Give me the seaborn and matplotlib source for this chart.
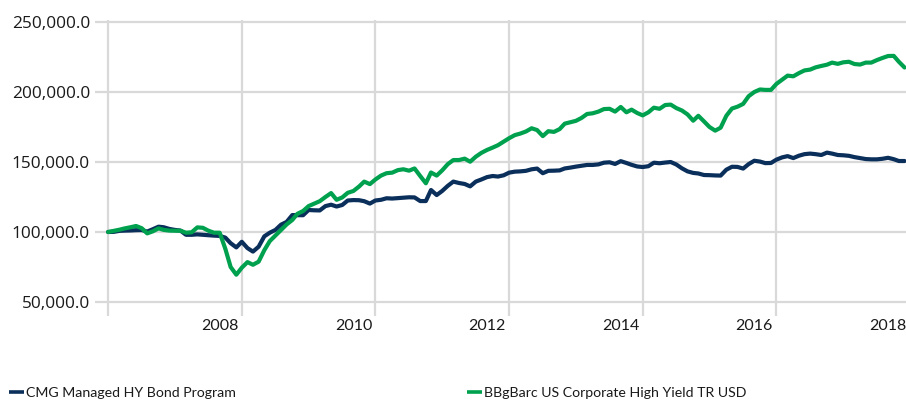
import pandas as pd
import matplotlib
matplotlib.use('Agg')
import matplotlib.pyplot as plt
from matplotlib.lines import Line2D
from matplotlib.ticker import FuncFormatter
import seaborn as sns

# Growth of 100,000 - monthly values (in thousands), May 2006 - Apr 2018
start_month = '2006-05-01'

cmg_values = [
    100.0, 100.1, 100.8, 101.0, 101.1, 101.3, 101.4, 100.3, 102.0, 103.8,
    103.4, 102.2, 101.5, 101.0, 98.0, 98.0, 98.3, 98.0, 97.7, 97.4,
    97.2, 96.0, 92.0, 89.0, 93.0, 88.5, 86.0, 89.5, 96.9, 99.5,
    101.5, 105.2, 107.2, 112.1, 112.0, 112.0, 115.7, 115.5, 115.4, 118.5,
    119.5, 118.2, 119.3, 122.5, 122.8, 122.7, 122.0, 120.3, 122.5, 123.0,
    124.1, 123.9, 124.2, 124.5, 124.8, 124.7, 122.1, 122.1, 130.0, 126.4,
    129.3, 133.0, 136.0, 135.0, 134.3, 132.6, 136.0, 137.5, 139.2, 140.0,
    139.6, 140.5, 142.4, 143.1, 143.3, 143.7, 144.8, 145.3, 142.0, 143.7,
    143.8, 144.0, 145.4, 146.0, 146.7, 147.3, 147.9, 147.9, 148.3, 149.5,
    149.8, 148.6, 150.6, 149.3, 148.0, 146.8, 146.4, 147.0, 149.5, 149.1,
    149.6, 150.0, 148.2, 145.5, 143.3, 142.2, 141.8, 140.7, 140.6, 140.4,
    140.3, 144.5, 146.6, 146.5, 145.3, 148.5, 150.9, 150.3, 149.2, 149.3,
    151.7, 153.3, 154.2, 152.8, 154.5, 155.6, 156.0, 155.6, 155.0, 156.7,
    156.0, 155.0, 154.8, 154.4, 153.5, 152.8, 152.1, 151.9, 151.9, 152.3,
    153.0, 152.0, 150.7, 150.7,
]

bbg_values = [
    100.0, 100.8, 101.6, 102.6, 103.4, 104.3, 102.7, 99.0, 100.5, 102.6,
    101.5, 101.0, 100.9, 100.9, 99.5, 99.8, 103.3, 103.0, 100.9, 99.5,
    99.5, 88.0, 75.0, 69.5, 74.5, 78.5, 76.6, 78.8, 87.0, 93.5,
    97.5, 101.3, 105.4, 108.6, 113.0, 115.0, 118.5, 120.3, 122.0, 125.0,
    127.8, 123.0, 124.7, 128.0, 129.3, 132.5, 136.0, 134.2, 137.5, 140.3,
    142.0, 142.4, 144.2, 144.8, 143.8, 145.4, 140.0, 134.8, 142.5, 140.3,
    144.0, 148.5, 151.4, 151.4, 152.4, 150.2, 153.8, 156.5, 158.6, 160.3,
    162.0, 164.5, 167.0, 169.2, 170.3, 171.8, 174.1, 172.8, 168.5, 172.0,
    171.5, 173.5, 177.4, 178.4, 179.4, 181.5, 184.3, 184.8, 186.0, 187.8,
    188.0, 186.0, 189.3, 185.5, 187.4, 185.0, 183.3, 185.5, 188.8, 188.0,
    190.7, 191.0, 188.5, 186.8, 184.0, 179.5, 183.0, 179.0, 175.0, 172.4,
    174.5, 183.0, 188.2, 189.5, 191.5, 197.0, 200.0, 201.8, 201.5, 201.5,
    205.8, 208.8, 211.7, 211.2, 213.5, 215.4, 216.0, 217.6, 218.6, 219.5,
    221.0, 220.1, 221.2, 221.6, 220.0, 219.6, 221.0, 221.0, 222.8, 224.3,
    225.7, 225.8, 221.6, 217.5,
]

series_names = ['CMG Managed HY Bond Program', 'BBgBarc US Corporate High Yield TR USD']
label_years = ['2008', '2010', '2012', '2014', '2016', '2018']
y_ticks = [50000, 100000, 150000, 200000, 250000]

navy = '#0b2f5b'
green = '#00a14e'
grid_col = '#d9d9d9'
text_col = '#1a1a1a'

dates = pd.date_range(start_month, periods=len(cmg_values), freq='MS')
df = pd.concat([
    pd.DataFrame({'date': dates, 'value': [v * 1000 for v in cmg_values], 'series': series_names[0]}),
    pd.DataFrame({'date': dates, 'value': [v * 1000 for v in bbg_values], 'series': series_names[1]}),
])

sns.set_style('white')
plt.rcParams['font.family'] = ['Open Sans', 'DejaVu Sans']

fig = plt.figure(figsize=(9.06, 4.01), dpi=100)
# axes box in pixels: left 106.4, right 906, top 19.9, bottom 304.1
ax = fig.add_axes([106.4 / 906, (401 - 304.1) / 401, (906 - 106.4) / 906, 284.2 / 401])

sns.lineplot(data=df, x='date', y='value', hue='series',
             palette={series_names[0]: navy, series_names[1]: green},
             linewidth=3.0, legend=False, ax=ax)

# x axis: gridlines every 24 months from the first month, labels at even years
grid_dates = pd.date_range(start_month, periods=6, freq='24MS')
ax.set_xlim(pd.Timestamp('2006-04-22'), pd.Timestamp('2018-04-09'))
ax.set_xticks(grid_dates)
ax.set_xticklabels([''] * len(grid_dates))
ax.set_xticks([pd.Timestamp(y + '-01-01') for y in label_years], minor=True)
ax.set_xticklabels(label_years, minor=True)

ax.set_ylim(48500, 251500)
ax.set_yticks(y_ticks)
ax.yaxis.set_major_formatter(FuncFormatter(lambda v, p: f'{v:,.1f}'))

ax.grid(True, which='major', color=grid_col, linewidth=1.6)
ax.set_axisbelow(True)
for s in ax.spines.values():
    s.set_visible(False)

ax.tick_params(axis='x', which='major', length=8.6, width=1.6, color=grid_col, direction='out', bottom=True)
ax.tick_params(axis='x', which='minor', length=0, pad=10.5, labelsize=11.5, labelcolor=text_col)
ax.tick_params(axis='y', which='major', length=8.2, width=1.6, color=grid_col, direction='out', left=True,
               pad=3.6, labelsize=12.4, labelcolor=text_col)
for lab in ax.get_xticklabels(minor=True):
    lab.set_family(['Lato', 'DejaVu Sans'])

ax.set_xlabel('')
ax.set_ylabel('')

# legend entries placed like the original (two separate blocks)
legend_pos = [(9 / 906, series_names[0], navy), (467 / 906, series_names[1], green)]
for x0, name, col in legend_pos:
    h = Line2D([], [], color=col, linewidth=2.6, solid_capstyle='butt')
    leg = fig.legend([h], [name], loc='center left', bbox_to_anchor=(x0, (401 - 393) / 401),
                     frameon=False, borderpad=0, borderaxespad=0, handlelength=1.05,
                     handletextpad=0.15, prop={'family': ['Lato', 'DejaVu Sans'], 'size': 10.2})
    for t in leg.get_texts():
        t.set_color(text_col)

fig.savefig('out.png', dpi=100)
